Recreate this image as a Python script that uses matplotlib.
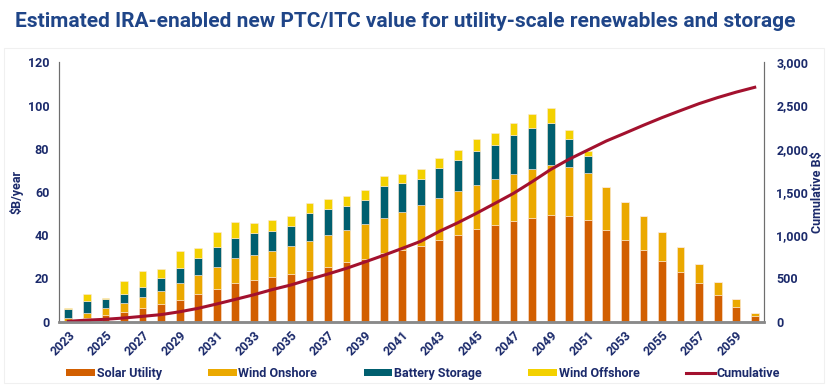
import numpy as np
import matplotlib
matplotlib.use("Agg")
import matplotlib.pyplot as plt
from matplotlib.lines import Line2D
from matplotlib.patches import Patch, Rectangle

plt.rcParams['font.family'] = ['Roboto', 'DejaVu Sans']

# data
years = list(range(2023, 2061))
solar = [0.3, 1.5, 3.1, 4.6, 6.3, 8.0, 10.2, 12.6, 15.3, 17.9, 19.3, 20.5,
         22.1, 23.6, 25.5, 27.5, 29.0, 31.6, 33.2, 35.0, 37.8, 40.1, 42.7, 44.7,
         46.4, 48.0, 49.4, 49.1, 47.0, 42.4, 37.8, 33.0, 28.1, 23.1, 17.9, 12.3,
         6.9, 2.6]
wind_on = [1.5, 2.4, 3.1, 3.9, 5.0, 6.3, 7.5, 9.0, 10.2, 11.7, 11.7, 12.4,
           12.9, 13.9, 14.5, 15.1, 16.0, 16.5, 17.5, 18.8, 19.6, 20.4, 20.7, 21.3,
           21.9, 22.6, 22.9, 22.5, 21.8, 19.9, 17.7, 15.7, 13.5, 11.3, 8.6, 6.2,
           3.7, 1.6]
battery = [4.2, 5.8, 4.3, 4.5, 4.7, 5.8, 7.0, 8.0, 8.9, 9.3, 10.0, 9.2,
           9.3, 12.8, 12.0, 10.9, 11.3, 14.5, 13.3, 12.4, 13.7, 14.2, 15.6, 15.8,
           17.9, 18.9, 19.5, 12.8, 7.7, 0, 0, 0, 0, 0, 0, 0,
           0, 0]
wind_off = [0.2, 3.1, 0.6, 5.8, 7.4, 4.3, 7.8, 4.3, 7.2, 7.2, 4.5, 4.9,
            4.6, 4.5, 4.6, 4.7, 4.5, 4.8, 4.3, 4.4, 4.6, 4.7, 5.4, 5.4,
            5.7, 6.6, 7.1, 4.3, 2.3, 0, 0, 0, 0, 0, 0, 0,
            0, 0]
cumulative = [5, 18, 28, 43, 62, 82, 115, 155, 205, 258, 312, 372,
              425, 490, 552, 618, 692, 768, 848, 930, 1045, 1145, 1254, 1369,
              1485, 1619, 1760, 1880, 1985, 2090, 2180, 2272, 2360, 2442, 2522, 2592,
              2655, 2711]

series = [("Solar Utility", solar, "#d25f00"),
          ("Wind Onshore", wind_on, "#eba900"),
          ("Battery Storage", battery, "#005f6f"),
          ("Wind Offshore", wind_off, "#f3d100")]
line_color = "#a3112e"
navy = "#1b2a6b"

fig = plt.figure(figsize=(8.28, 3.87), dpi=100)
ax = fig.add_axes([0.0713, 0.1687, 0.8514, 0.6703])

x = np.array(years)
bottom = np.zeros(len(years))
for name, vals, col in series:
    vals = np.array(vals)
    ax.bar(x, vals, width=0.42, bottom=bottom, color=col,
           edgecolor="#fbe9d9", linewidth=0.4)
    bottom += vals

ax.set_xlim(2022.5, 2060.5)
ax.set_ylim(0, 120)
ax.set_yticks(range(0, 121, 20))
ax.set_xticks(years[::2])
ax.set_xticklabels([str(y) for y in years[::2]], rotation=45, ha="right",
                   rotation_mode="anchor")
ax.tick_params(length=0, labelsize=9, labelcolor=navy, pad=7)
ax.tick_params(axis="x", pad=5)
for lab in ax.get_xticklabels() + ax.get_yticklabels():
    lab.set_fontweight("bold")
ax.set_ylabel("$B/year", fontsize=9, color=navy, fontweight="bold", labelpad=3)

ax2 = ax.twinx()
ax2.plot(x, cumulative, color=line_color, linewidth=2.2)
ax2.set_ylim(0, 3000)
ax2.set_yticks(range(0, 3001, 500))
ax2.set_yticklabels([f"{v:,}" for v in range(0, 3001, 500)])
ax2.tick_params(length=0, labelsize=9, labelcolor=navy, pad=9)
for lab in ax2.get_yticklabels():
    lab.set_fontweight("bold")
ax2.set_ylabel("Cumulative B$", fontsize=9, color=navy, fontweight="bold",
               labelpad=2)

for a in (ax, ax2):
    a.spines["top"].set_visible(False)
    a.spines["left"].set_color("#6e6e6e")
    a.spines["right"].set_color("#6e6e6e")
    a.spines["bottom"].set_color("#8a8a8a")
    a.spines["bottom"].set_linewidth(1.8)

fig.text(0.018, 0.945, "Estimated IRA-enabled new PTC/ITC value for utility-scale renewables and storage",
         fontsize=15, fontweight="bold", color="#1f4588", va="center")

# faint frame round the chart area
fig.patches.append(Rectangle((0.005, 0.01), 0.99, 0.865, transform=fig.transFigure,
                             fill=False, edgecolor="#f0f0f0", linewidth=0.8))

handles = [Patch(facecolor=c, edgecolor="none") for _, _, c in series]
handles.append(Line2D([0], [0], color=line_color, linewidth=2.2))
labels = [s[0] for s in series] + ["Cumulative"]
leg = fig.legend(handles, labels, loc="center left", ncol=5, mode="expand",
                 bbox_to_anchor=(0.066, 0.02, 0.89, 0.03), frameon=False,
                 handlelength=2.3, handleheight=0.55, handletextpad=0.15,
                 prop={"size": 9, "weight": "bold"})
for t in leg.get_texts():
    t.set_color(navy)

fig.savefig("out.png", dpi=100)
